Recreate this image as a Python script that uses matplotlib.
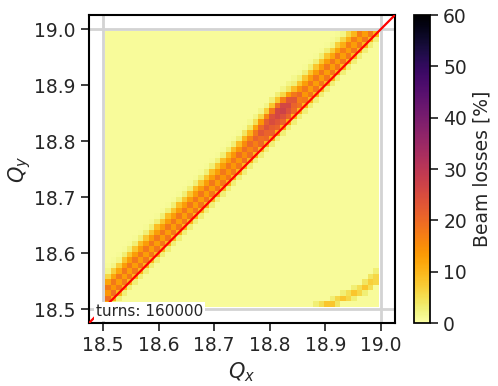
import numpy as np
import matplotlib.pyplot as plt

# tune scan grid: 50 x 50 cells between 18.5 and 19.0
n_cells = 50
q_lo, q_hi = 18.504, 18.996
turns = 160000

base_loss = 0.8

# losses along the diagonal resonance, one row per Qx column,
# values for cells at Qy index = Qx index + offset
band_offsets = [-1, 0, 1, 2, 3, 4, 5, 6, 7]
band_losses = [
    [3, 12, 19, 14, 18, 12, 6, 2, 1],
    [3, 11, 19, 14, 18, 12, 7, 2, 1],
    [3, 10, 18, 13, 18, 12, 7, 2, 1],
    [3, 10, 18, 13, 18, 13, 8, 3, 1],
    [3, 10, 18, 13, 18, 13, 8, 3, 1],
    [3, 10, 18, 13, 18, 13, 8, 3, 1],
    [3, 10, 18, 13, 18, 13, 9, 3, 1],
    [3, 10, 18, 13, 18, 13, 8, 3, 1],
    [3, 10, 18, 13, 18, 13, 8, 3, 1],
    [3, 10, 18, 13, 18, 13, 9, 3, 1],
    [3, 10, 18, 13, 18, 13, 8, 3, 1],
    [3, 10, 18, 13, 18, 13, 9, 3, 1],
    [3, 10, 18, 13, 18, 13, 8, 3, 1],
    [3, 10, 18, 13, 18, 13, 9, 3, 1],
    [3, 10, 18, 13, 18, 13, 8, 3, 1],
    [3, 10, 18, 13, 18, 13, 8, 3, 1],
    [3, 10, 18, 13, 18, 13, 9, 3, 1],
    [3, 10, 18, 13, 18, 13, 8, 3, 1],
    [3, 10, 18, 13, 18, 13, 8, 3, 1],
    [3, 10, 18, 13, 18, 13, 9, 3, 1],
    [3, 10, 18, 13, 18, 13, 8, 3, 1],
    [3, 10, 18, 14, 18, 13, 9, 3, 1],
    [3, 10, 18, 14, 18, 13, 9, 3, 1],
    [3, 10, 18, 14, 18, 14, 9, 3, 1],
    [3, 10, 18, 14, 19, 14, 9, 3, 1],
    [3, 10, 19, 15, 19, 15, 10, 4, 1],
    [3, 10, 19, 16, 20, 16, 10, 4, 1.5],
    [3, 10, 19, 17, 21, 18, 12, 5, 2],
    [3, 10, 20, 19, 23, 20, 14, 6, 2],
    [3, 10, 20, 21, 24, 22, 16, 7, 2],
    [3, 11, 21, 22, 25, 24, 18, 8, 3],
    [3, 11, 21, 23, 26, 26, 19, 8, 3],
    [3, 11, 21, 24, 27, 26, 17, 6, 2],
    [3, 11, 21, 24, 26, 23, 13, 4, 2],
    [3, 10, 20, 21, 23, 18, 9, 3, 1.5],
    [3, 10, 19, 17, 20, 14, 8, 3, 1],
    [3, 10, 18, 14, 18, 13, 8, 3, 1],
    [3, 10, 18, 13, 18, 13, 8, 3, 1],
    [3, 10, 18, 13, 18, 13, 8, 3, 1],
    [3, 10, 18, 13, 18, 13, 8, 3, 1],
    [3, 10, 18, 13, 18, 13, 8, 3, 1],
    [3, 10, 18, 13, 18, 12, 7, 2, 1],
    [3, 10, 18, 13, 18, 12, 7, 2, 1],
    [3, 10, 18, 13, 17, 11, 6, 2, 1],
    [3, 10, 18, 13, 17, 11, 6, 2, 1],
    [3, 10, 18, 13, 17, 10, 5, 2, 1],
    [3, 10, 18, 13, 17, 10, 5, 2, 1],
    [3, 10, 18, 13, 17, 10, 5, 2, 1],
    [3, 10, 18, 13, 17, 10, 5, 2, 1],
    [3, 10, 18, 13, 17, 10, 5, 2, 1],
]

# weaker resonance in the lower right corner (Qx index, Qy index, loss)
side_qx = [38, 39, 40, 41, 42, 41, 42, 43, 44, 45, 43, 44, 45, 46, 47,
           45, 46, 47, 48, 47, 48, 49, 48, 49, 49]
side_qy = [0, 0, 0, 0, 0, 1, 1, 1, 1, 1, 2, 2, 2, 2, 2,
           3, 3, 3, 3, 4, 4, 4, 5, 5, 6]
side_loss = [3, 5, 8, 8, 4, 3, 6, 8, 6, 3, 3, 5, 8, 6, 3,
             3, 5, 8, 5, 4, 7, 6, 4, 6, 3]

loss = np.full((n_cells, n_cells), base_loss)
for i, row in enumerate(band_losses):
    for d, v in zip(band_offsets, row):
        j = i + d
        if 0 <= j < n_cells:
            loss[j, i] = v
for i, j, v in zip(side_qx, side_qy, side_loss):
    loss[j, i] = v

edges = np.linspace(q_lo, q_hi, n_cells + 1)

dpi = 100
fig = plt.figure(dpi=dpi, figsize=(498 / dpi, 386 / dpi))
plt.rcParams.update({'font.size': 13.5, 'text.color': '#262626',
                     'axes.labelcolor': '#262626'})
ax = fig.add_axes([0.1787, 0.1632, 0.6143, 0.7979])
cax = fig.add_axes([0.8313, 0.1632, 0.0321, 0.7979])

mesh = ax.pcolormesh(edges, edges, loss, cmap='inferno_r', vmin=0, vmax=60,
                     zorder=1)
for q in (18.5, 19.0):
    ax.axhline(q, color='#d3d3d3', lw=2, zorder=0)
    ax.axvline(q, color='#d3d3d3', lw=2, zorder=0)
ax.plot([18.475, 19.025], [18.475, 19.025], color='red', lw=1.6, zorder=3)
ax.text(18.487, 18.4955, 'turns: %d' % turns, fontsize=11, va='center',
        ha='left', zorder=4,
        bbox=dict(facecolor='white', edgecolor='none', pad=1.2))

ax.set_xlim(18.475, 19.025)
ax.set_ylim(18.475, 19.025)
ticks = [18.5, 18.6, 18.7, 18.8, 18.9, 19.0]
ax.set_xticks(ticks)
ax.set_yticks(ticks)
ax.tick_params(direction='out', length=6, width=1.25, colors='#262626',
               labelcolor='#262626', labelsize=13.5)
for s in ax.spines.values():
    s.set_linewidth(1.5)
ax.set_xlabel('$Q_x$', fontsize=15)
ax.set_ylabel('$Q_y$', fontsize=15, labelpad=1)

cb = fig.colorbar(mesh, cax=cax)
cb.set_ticks([0, 10, 20, 30, 40, 50, 60])
cb.outline.set_linewidth(1.25)
cax.tick_params(direction='out', length=6, width=1.25, labelsize=13.5,
                colors='#262626')
cb.set_label('Beam losses [%]', fontsize=13.5)

plt.savefig('out.png', dpi=dpi)
